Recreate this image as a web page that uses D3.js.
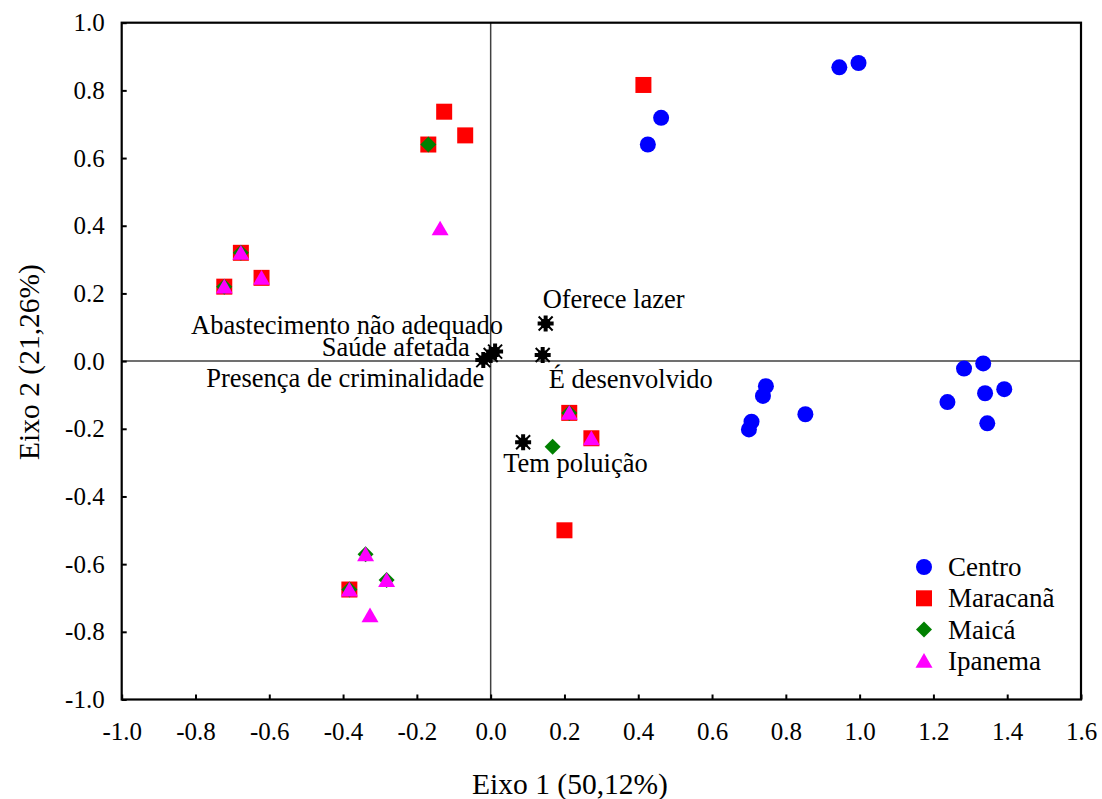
<!DOCTYPE html>
<html>
<head>
<meta charset="utf-8">
<script src="https://d3js.org/d3.v7.min.js"></script>
<style>
  body { margin: 0; background: #fff; }
  text { font-family: "Liberation Serif", "Times New Roman", serif; fill: #000; }
</style>
</head>
<body>
<svg width="1102" height="799"></svg>
<script>
// scores per group: [eixo1, eixo2]
var centro = [
  [0.426, 0.640], [0.462, 0.719], [0.945, 0.868], [0.997, 0.881],
  [0.746, -0.074], [0.738, -0.103], [0.707, -0.179], [0.700, -0.202],
  [0.853, -0.157], [1.283, -0.022], [1.335, -0.007], [1.238, -0.121],
  [1.340, -0.095], [1.392, -0.083], [1.346, -0.184]
];
var maracana = [
  [-0.126, 0.737], [-0.069, 0.667], [-0.169, 0.640], [-0.677, 0.320],
  [-0.621, 0.246], [-0.722, 0.220], [0.414, 0.816], [0.213, -0.153],
  [0.273, -0.228], [0.200, -0.500], [-0.383, -0.675]
];
var maica = [
  [-0.169, 0.640], [-0.677, 0.320], [-0.722, 0.220], [0.213, -0.153],
  [0.168, -0.253], [-0.339, -0.571], [-0.282, -0.647], [-0.383, -0.675]
];
var ipanema = [
  [-0.137, 0.392], [-0.677, 0.320], [-0.621, 0.246], [-0.722, 0.220],
  [0.213, -0.153], [0.273, -0.228], [-0.339, -0.571], [-0.282, -0.647],
  [-0.383, -0.675], [-0.327, -0.751]
];
var variaveis = [
  { name: "Oferece lazer", x: 0.149, y: 0.111 },
  { name: "É desenvolvido", x: 0.141, y: 0.018 },
  { name: "Tem poluição", x: 0.088, y: -0.240 },
  { name: "Abastecimento não adequado", x: 0.012, y: 0.028 },
  { name: "Saúde afetada", x: 0.000, y: 0.018 },
  { name: "Presença de criminalidade", x: -0.020, y: 0.003 }
];
var xTicks = [-1.0, -0.8, -0.6, -0.4, -0.2, 0.0, 0.2, 0.4, 0.6, 0.8, 1.0, 1.2, 1.4, 1.6];
var yTicks = [-1.0, -0.8, -0.6, -0.4, -0.2, 0.0, 0.2, 0.4, 0.6, 0.8, 1.0];

// label placement (pixels from the point)
var labelPos = {
  "Oferece lazer": [-3, -16, "start"],
  "É desenvolvido": [6, 33, "start"],
  "Tem poluição": [-20, 30, "start"],
  "Abastecimento não adequado": [8, -18, "end"],
  "Saúde afetada": [-21, 1, "end"],
  "Presença de criminalidade": [1, 27, "end"]
};

var svg = d3.select("svg");
var mLeft = 121.7, mRight = 1081, mTop = 22.7, mBottom = 699.5;

var x = d3.scaleLinear().domain([-1, 1.6]).range([mLeft, mRight]);
var y = d3.scaleLinear().domain([-1, 1]).range([mBottom, mTop]);

var fmt = function (d) { return d.toFixed(1); };

// zero lines
svg.append("line")
  .attr("x1", x(0)).attr("x2", x(0))
  .attr("y1", mTop).attr("y2", mBottom)
  .attr("stroke", "#404040").attr("stroke-width", 1.5);
svg.append("line")
  .attr("x1", mLeft).attr("x2", mRight)
  .attr("y1", y(0)).attr("y2", y(0))
  .attr("stroke", "#404040").attr("stroke-width", 1.5);

var xAxis = svg.append("g")
  .attr("transform", "translate(0," + mBottom + ")")
  .call(d3.axisBottom(x).tickValues(xTicks).tickSize(-5).tickPadding(23).tickFormat(fmt));
var yAxis = svg.append("g")
  .attr("transform", "translate(" + mLeft + ",0)")
  .call(d3.axisLeft(y).tickValues(yTicks).tickSize(-5).tickPadding(17).tickFormat(fmt));

[xAxis, yAxis].forEach(function (g) {
  g.select(".domain").remove();
  g.selectAll(".tick line").attr("stroke", "#000").attr("stroke-width", 2);
  g.selectAll(".tick text")
    .attr("fill", "#000")
    .style("font-family", '"Liberation Serif", "Times New Roman", serif')
    .style("font-size", "25px");
});

svg.append("rect")
  .attr("x", mLeft).attr("y", mTop)
  .attr("width", mRight - mLeft).attr("height", mBottom - mTop)
  .attr("fill", "none").attr("stroke", "#000").attr("stroke-width", 2.2);

// axis titles
svg.append("text")
  .attr("x", 570).attr("y", 794)
  .attr("text-anchor", "middle")
  .style("font-size", "29.5px")
  .text("Eixo 1 (50,12%)");
svg.append("text")
  .attr("transform", "translate(39,362) rotate(-90)")
  .attr("text-anchor", "middle")
  .style("font-size", "29.5px")
  .text("Eixo 2 (21,26%)");

var groups = [
  { name: "Centro", data: centro, color: "#0000ff", shape: "circle" },
  { name: "Maracanã", data: maracana, color: "#ff0000", shape: "square" },
  { name: "Maicá", data: maica, color: "#008000", shape: "diamond" },
  { name: "Ipanema", data: ipanema, color: "#ff00ff", shape: "triangle" }
];

function symbolPath(shape) {
  if (shape == "circle") return d3.symbol(d3.symbolCircle, 201)();
  if (shape == "square") return d3.symbol(d3.symbolSquare, 256)();
  if (shape == "diamond") return d3.symbol(d3.symbolSquare, 128)();
  return d3.symbol(d3.symbolTriangle, 125)();
}
function symbolTransform(shape) {
  if (shape == "diamond") return " rotate(45)";
  if (shape == "triangle") return " translate(0,2)";
  return "";
}

groups.forEach(function (grp) {
  svg.append("g")
    .selectAll("path")
    .data(grp.data)
    .enter()
    .append("path")
    .attr("d", symbolPath(grp.shape))
    .attr("transform", function (d) {
      return "translate(" + x(d[0]) + "," + y(d[1]) + ")" + symbolTransform(grp.shape);
    })
    .attr("fill", grp.color);
});

// variable markers (asterisks): bold plus with thinner diagonals
var plus = d3.path();
plus.moveTo(-8, 0); plus.lineTo(8, 0);
plus.moveTo(0, -8); plus.lineTo(0, 8);
var cross = d3.path();
cross.moveTo(-7, -7); cross.lineTo(7, 7);
cross.moveTo(-7, 7); cross.lineTo(7, -7);

var vg = svg.append("g");
var marks = vg.selectAll("g")
  .data(variaveis)
  .enter()
  .append("g")
  .attr("transform", function (d) {
    return "translate(" + x(d.x) + "," + y(d.y) + ")";
  });
marks.append("path")
  .attr("d", cross.toString())
  .attr("stroke", "#000")
  .attr("stroke-width", 2);
marks.append("path")
  .attr("d", plus.toString())
  .attr("stroke", "#000")
  .attr("stroke-width", 4);
marks.append("rect")
  .attr("x", -4.5).attr("y", -4.5)
  .attr("width", 9).attr("height", 9)
  .attr("fill", "#000");

vg.selectAll("text")
  .data(variaveis)
  .enter()
  .append("text")
  .attr("x", function (d) { return x(d.x) + labelPos[d.name][0]; })
  .attr("y", function (d) { return y(d.y) + labelPos[d.name][1]; })
  .attr("text-anchor", function (d) { return labelPos[d.name][2]; })
  .style("font-size", "26.5px")
  .text(function (d) { return d.name; });

// legend
var legend = svg.append("g").attr("transform", "translate(924,567)");
var row = legend.selectAll("g")
  .data(groups)
  .enter()
  .append("g")
  .attr("transform", function (d, i) { return "translate(0," + (i * 31.3) + ")"; });
row.append("path")
  .attr("d", function (d) { return symbolPath(d.shape); })
  .attr("transform", function (d) { return symbolTransform(d.shape); })
  .attr("fill", function (d) { return d.color; });
row.append("text")
  .attr("x", 24)
  .attr("y", 9)
  .style("font-size", "27px")
  .text(function (d) { return d.name; });
</script>
</body>
</html>
